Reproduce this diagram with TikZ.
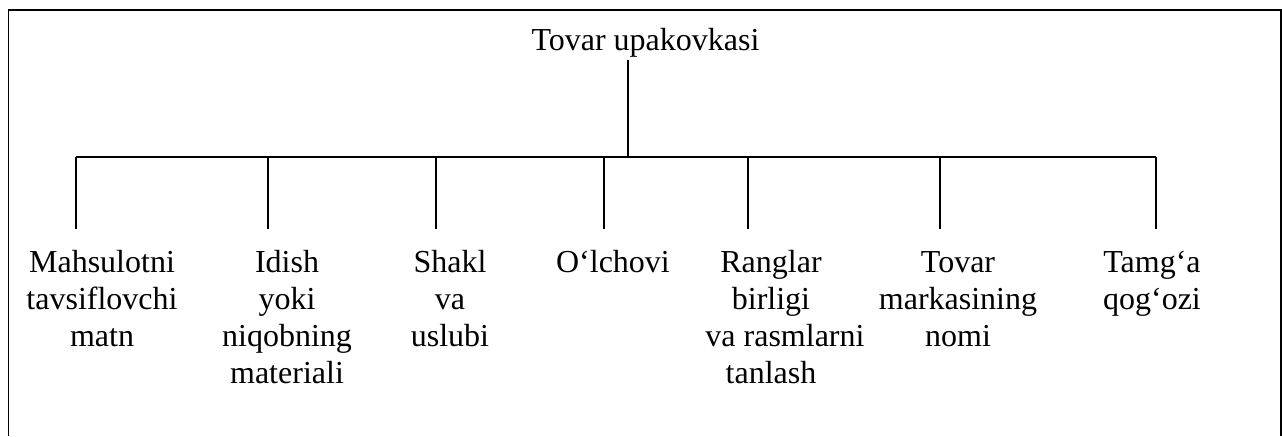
\documentclass[tikz,border=0pt]{standalone}
\usepackage{fontspec}
\setmainfont{Liberation Serif}
\begin{document}
\begin{tikzpicture}[x=0.75pt,y=-0.75pt,
  line width=1.1pt,
  lbl/.style={font=\fontsize{24}{27.75}\selectfont, align=center, inner sep=0pt, anchor=base},
  frameline/.style={line width=1.3pt}]
  \useasboundingbox (0,0) rectangle (1282,436);
  % open frame around the diagram
  \draw[frameline] (8.5,436) -- (8.5,10.3) -- (1280.7,10.3) -- (1280.7,436);

  % root
  \node[lbl] (title) at (645.5,50) {Tovar upakovkasi};
  \coordinate (hub) at (628,157);
  \path (title.south -| hub) ++(0,2) coordinate (stemtop);
  \draw (stemtop) -- (hub);

  % horizontal bar ends
  \coordinate (barL) at (76,157);
  \coordinate (barR) at (1156,157);
  \draw (barL) -- (barR);

  % drop ends
  \foreach \i/\x in {1/76,2/268,3/436,4/604,5/748,6/940,7/1156}{
    \coordinate (d\i) at (\x,229);
    \draw (d\i |- barL) -- (d\i);
  }

  % leaf labels (anchored on the baseline of their last line; first baseline at y=272)
  \node[lbl] (m1) at (102,346) {Mahsulotni\\tavsiflovchi\\matn};
  \node[lbl] (m2) at (287,383) {Idish\\yoki\\niqobning\\materiali};
  \node[lbl] (m3) at (450,346) {Shakl\\va\\uslubi};
  \node[lbl] (m4) at (613,272) {O‘lchovi};
  \node[lbl] (m5) at (771,383) {Ranglar\\birligi\\\hspace*{21pt}va rasmlarni\\tanlash};
  \node[lbl] (m6) at (958,346) {Tovar\\markasining\\nomi};
  \node[lbl] (m7) at (1152,309) {Tamg‘a\\qog‘ozi};
\end{tikzpicture}
\end{document}
